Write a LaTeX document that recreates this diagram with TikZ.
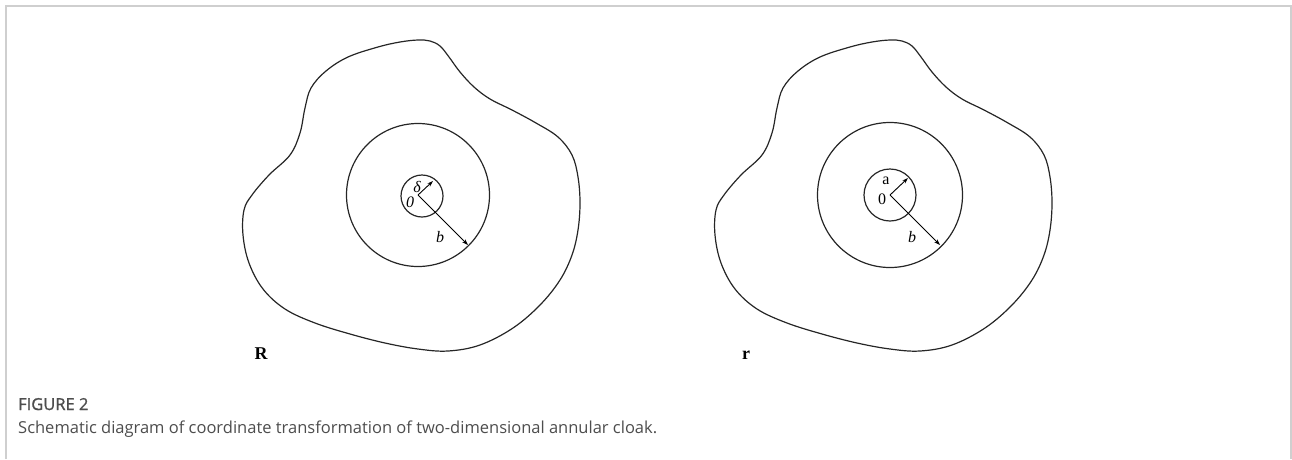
\documentclass[tikz,border=0pt]{standalone}
\usepackage{fontspec}
\setmainfont{Liberation Serif}
\newfontfamily\capfont{Open Sans}
\newfontfamily\capfontb[FakeBold=1.2]{Open Sans}
\usetikzlibrary{arrows.meta}

\definecolor{framegray}{HTML}{CFCFCF}
\definecolor{capgray}{HTML}{4D4D4D}

\tikzset{
  ring/.style={line width=1.2pt, black!85},
  blob/.style={line width=1.2pt, black!85},
  radius arrow/.style={line width=0.9pt, -{Stealth[length=6pt,width=4pt]}},
  lbl/.style={inner sep=0pt, font=\fontsize{16}{16}\selectfont},
  tag/.style={inner sep=0pt, font=\fontsize{18}{18}\selectfont\bfseries},
  captext/.style={inner sep=0pt, anchor=base west, text=capgray,
    font=\capfont\fontsize{16.5}{16.5}\selectfont},
}

\begin{document}
\begin{tikzpicture}[x=1pt,y=-1pt]
\useasboundingbox (0,0) rectangle (1292,459);

% frame round the figure
\draw[framegray, line width=2pt] (6,459) -- (6,6) -- (1291,6) -- (1291,459);

% the two outer regions (same outline)
\foreach \cx in {418,890} {
  \draw[blob, shift={(\cx,195)}] plot[smooth cycle, tension=0.6] coordinates {
    (0,-155) (12,-154) (22,-149) (31,-138) (42,-123) (56,-108) (72,-96)
    (94,-85) (118,-72) (140,-58) (154,-40) (160,-18) (162,8) (160,35)
    (154,60) (142,85) (122,110) (95,133) (62,150) (30,156) (0,154)
    (-33,148) (-68,139) (-103,128) (-133,114) (-155,94) (-169,68)
    (-175,40) (-174,15) (-166,0) (-149,-20) (-128,-40) (-118,-62)
    (-113,-87) (-107,-107) (-92,-124) (-70,-138) (-40,-148) (-18,-153)};
}

% left: original space R
\coordinate (O1) at (418,195);
\coordinate (d1) at (433,181);
\coordinate (b1) at (468,245);
\draw[ring] (O1) circle (71.5pt);
\draw[ring] (422,196) circle (21pt);
\draw[radius arrow] (O1) -- (d1);
\draw[radius arrow] (O1) -- (b1);
\node[lbl] (delta) at (417,187) {\itshape δ};
\node[lbl] (zero1) at (410,202) {\itshape 0};
\node[lbl] (bee1) at (440,237) {\itshape b};
\node[tag] (bigR) at (261,354) {R};

% right: transformed space r
\coordinate (O2) at (890,195);
\coordinate (a2) at (908,178);
\coordinate (b2) at (940,245);
\draw[ring] (O2) circle (72.5pt);
\draw[ring] (O2) circle (26pt);
\draw[radius arrow] (O2) -- (a2);
\draw[radius arrow] (O2) -- (b2);
\node[lbl] (ay) at (886,181) {a};
\node[lbl] (zero2) at (882,199) {0};
\node[lbl] (bee2) at (912,237) {\itshape b};
\node[tag] (smallr) at (746,355) {r};

% caption
\node[captext, font=\capfontb\fontsize{16.5}{16.5}\selectfont] (fignum) at (18,410) {FIGURE 2};
\node[captext] (figcap) at (18,433) {Schematic diagram of coordinate transformation of two-dimensional annular cloak.};
\end{tikzpicture}
\end{document}
